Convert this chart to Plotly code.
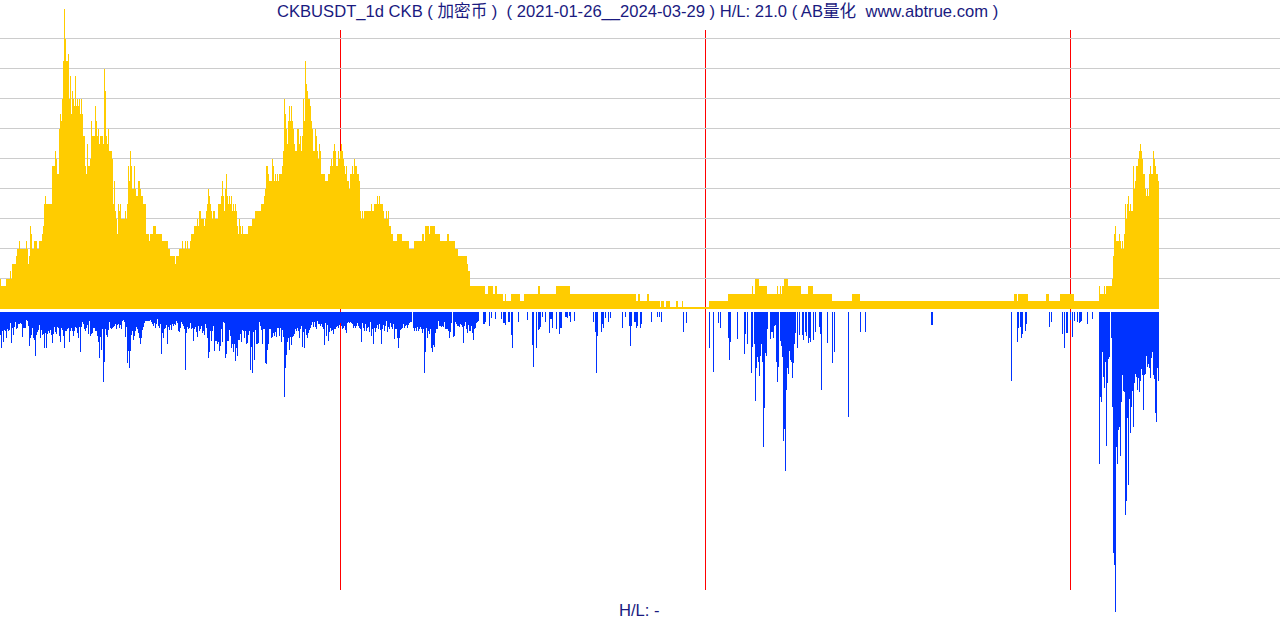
import numpy as np
import pandas as pd
import plotly.graph_objects as go

# ---------------- data ----------------
start_date = "2021-01-26"
year_marks = ["2022-01-01", "2023-01-01", "2024-01-01"]

# daily close price in 0.001 USDT, run-length encoded as (value, number of days)
price_runs = [
    (4,1),(3,5),(4,4),(5,1),(4,1),(6,4),(7,1),(8,2),(9,1),(8,6),(9,1),(8,1),(6,1),(7,1),
    (11,1),(10,1),(8,2),(9,3),(8,2),(9,3),(10,1),(11,1),(14,1),(15,1),(14,6),(19,3),(21,1),
    (20,1),(18,2),(24,1),(26,1),(25,1),(28,1),(33,1),(40,1),(36,1),(33,2),(34,1),(28,1),
    (31,1),(26,1),(29,1),(28,1),(27,1),(31,1),(27,1),(28,1),(27,1),(28,1),(26,1),(28,1),
    (26,1),(23,2),(19,1),(18,1),(22,1),(19,2),(20,1),(25,1),(23,3),(27,1),(25,1),(23,1),
    (24,1),(22,1),(23,3),(22,1),(32,1),(29,1),(23,1),(22,1),(24,1),(21,3),(20,1),(14,1),
    (17,1),(13,1),(12,1),(10,1),(14,1),(13,1),(14,1),(12,4),(13,1),(12,1),(14,1),(19,1),
    (17,1),(21,1),(19,1),(16,2),(19,1),(16,1),(15,2),(17,2),(16,1),(15,2),(14,3),(10,3),
    (9,1),(10,3),(11,3),(10,6),(9,6),(8,2),
    (7,5),(6,1),(7,3),(8,3),(9,1),(8,2),(9,1),(8,1),(9,1),(8,2),(9,1),(10,3),(11,3),(12,1),
    (11,1),(13,2),(12,3),(11,1),(12,1),(13,1),(14,1),(16,1),(15,1),(14,1),(13,1),(12,1),
    (13,2),(12,3),(14,3),(15,1),(17,1),(15,1),(13,1),(16,1),(18,1),(15,1),(14,1),(15,1),
    (14,1),(15,1),(13,1),(14,1),(13,1),(14,1),(13,1),(11,1),(10,1),(12,1),(11,1),(10,1),
    (11,1),(10,5),(11,4),(12,3),(13,6),(14,3),(15,1),(16,1),(19,2),(18,1),(17,3),(20,1),
    (19,1),(17,1),(18,1),(17,1),(18,1),(17,1),(18,3),(19,1),(21,1),(28,1),(26,1),(24,1),
    (22,1),(25,1),(27,1),(25,1),(27,1),(25,1),(24,1),(22,1),(21,2),(24,2),(22,1),(23,1),
    (21,1),(23,1),(28,1),(25,1),(33,1),(30,1),(29,1),(28,2),(27,1),(25,1),(24,1),(21,2),
    (24,1),(23,1),(21,1),(20,1),(22,1),(21,1),(18,4),(17,3),(18,2),(19,1),(20,1),(19,1),
    (21,1),(22,1),(21,1),(19,2),(21,1),(20,1),(21,1),(22,1),(21,1),(20,1),(19,1),(18,1),
    (19,1),(17,2),(16,1),(18,2),(19,1),(18,1),(20,1),(19,2),(18,2),(17,1),(13,1),(12,1),
    (13,1),(12,1),(13,7),(14,1),(13,2),(14,3),(15,1),(14,1),(15,1),(14,3),(13,1),(12,2),
    (13,1),(12,1),(13,1),(11,2),(10,2),(9,4),(10,5),(9,7),(8,5),(9,8),(10,2),(9,1),(11,4),
    (10,1),(11,5),(10,5),(9,7),(10,2),(9,6),(8,3),(7,9),(6,1),(5,2),(3,15),(2,3),(3,5),
    (2,2),(3,2),(2,6),(1,2),(2,1),(1,5),(2,9),(1,4),(2,14),(3,2),(2,16),(3,14),(2,66),
    (1,2),(2,2),(1,7),(2,2),(1,11),(0,1),(1,3),(0,2),(1,4),(0,6),(1,2),(0,4),(1,1),(0,26),
    (1,19),(2,24),(3,1),(2,2),(4,4),(3,8),(2,10),(3,1),(2,2),(3,1),(2,1),(3,2),(4,4),
    (3,13),(2,7),(3,5),(2,19),(1,20),(2,8),(1,154),(2,3),(1,1),(2,10),(1,18),(2,3),(1,11),
    (2,14),(1,25),(3,1),(2,4),(3,1),(2,1),(3,6),(4,1),(7,1),(10,1),(11,1),(9,3),(10,1),
    (9,1),(8,1),(9,1),(8,1),(10,1),(14,1),(12,1),(14,1),(15,1),(13,1),(14,1),(13,2),(19,1),
    (16,1),(17,1),(19,2),(20,1),(21,1),(22,1),(21,1),(20,1),(18,2),(16,1),(15,1),(16,1),
    (15,1),(18,1),(19,1),(18,2),(21,1),(20,1),(19,1),(18,2),(17,1),
]

# volume-like series (arbitrary units), days 0..478
volume_head = [
    23,36,19,30,18,19,26,17,19,18, 11,31,16,23,15,10,17,16,12,12, 11,12,25,16,16,16,8,9,14,34,
    26,23,16,26,28,44,23,20,18,13, 26,18,23,22,36,21,36,22,19,21, 18,23,31,22,15,20,22,15,16,24,
    30,16,18,24,36,19,19,17,16,30, 19,16,19,24,19,15,16,21,26,15, 40,15,10,12,17,19,16,13,22,9,
    24,22,21,16,16,19,19,24,30,46, 25,38,17,70,50,17,23,25,18,10, 16,17,16,15,14,12,17,13,12,16,
    13,17,9,8,10,25,15,51,39,56, 39,23,19,28,24,19,15,17,21,26, 32,26,18,15,11,9,9,9,9,9,
    8,10,12,14,11,16,12,7,14,16, 12,42,21,26,17,16,13,32,15,18, 13,18,12,14,12,13,9,11,19,20,
    16,10,12,14,17,58,21,15,17,16, 11,17,16,29,17,15,20,25,14,19, 17,14,21,19,23,12,16,26,46,40,
    19,29,19,14,39,29,29,32,30,39, 34,17,30,10,11,46,42,29,29,18, 24,36,32,40,32,49,36,44,28,28,
    22,30,18,19,26,19,32,31,23,19, 58,35,61,20,48,18,32,32,31,10, 14,18,32,17,17,51,52,38,32,17,
    17,26,25,21,24,20,25,16,16,24, 16,30,18,25,85,56,43,30,26,38, 25,33,25,24,22,17,19,16,19,26,
    17,14,35,20,36,17,23,26,21,18, 16,13,10,15,10,15,17,9,12,12, 14,12,15,17,33,11,24,13,29,20,
    16,19,18,22,17,17,15,14,16,13, 11,14,17,16,14,18,21,11,10,11, 10,11,12,16,14,16,14,11,14,16,
    17,30,11,16,19,12,19,16,15,20, 10,24,17,32,16,20,16,13,17,12, 18,32,17,13,19,14,9,20,15,17,
    11,15,17,12,27,17,17,26,36,26, 18,17,16,12,16,14,13,16,13,11, 10,10,0,16,19,16,19,15,19,17,
    15,17,21,17,61,40,16,26,19,22, 17,36,40,33,35,21,17,17,9,14, 14,15,14,15,10,17,17,17,19,26,
    20,11,0,25,24,10,12,14,14,15, 12,13,15,31,14,10,17,21,13,19, 19,14,21,28,17,16,11,10,9,
]

# sparse days in the middle: (day number from start, volume)
volume_sparse = [
    (483,12),(484,12),(485,10),(489,14),(491,6),(495,7),(501,7),(503,11),(504,11),(505,13),
    (508,10),(509,10),(511,23),(512,36),(518,10),(527,8),(532,33),(533,55),(536,36),(538,18),
    (539,17),(540,15),(542,5),(545,10),(549,21),(550,7),(551,7),(552,16),(556,17),(559,22),
    (560,16),(561,16),(565,5),(566,5),(567,6),(569,4),(570,10),(574,9),(593,10),(595,20),
    (596,61),(597,24),(601,20),(602,12),(603,16),(605,6),(608,10),(610,6),(622,16),(625,5),
    (629,14),(630,34),(631,14),(634,10),(635,10),(636,16),(637,14),(640,16),(641,12),(651,10),
    (657,5),(659,5),(661,10),(683,20),(686,11),(709,36),(713,60),(718,11),(720,16),(728,26),
    (729,48),(730,30),(737,27),(744,42),(745,22),(747,32),(751,61),(752,35),(754,32),(755,89),
    (756,56),(757,45),(758,50),(759,64),(760,44),(761,32),(762,50),(763,135),(764,96),(765,41),
    (766,44),(767,17),(770,27),(771,20),(772,20),(773,26),(774,14),(775,13),(776,50),(777,70),
    (778,55),(780,29),(781,34),(782,45),(783,129),(784,117),(785,159),(786,78),(787,56),(788,62),
    (789,39),(790,48),(791,50),(792,66),(793,51),(794,32),(795,21),(797,36),(799,23),(802,23),
    (803,28),(805,20),(806,24),(808,31),(809,26),(810,30),(813,28),(815,20),(819,15),(820,22),
    (821,78),(827,31),(832,51),(834,40),(848,105),(860,20),(865,20),(931,13),(932,13),(1011,69),
    (1017,30),(1018,16),(1020,15),(1021,26),(1022,22),(1025,19),(1026,12),(1049,15),(1051,10),
    (1062,22),(1064,36),(1066,21),(1067,21),(1070,8),(1072,25),(1074,9),(1077,10),(1079,11),
    (1080,10),(1081,9),(1087,12),(1092,7),
]

# days 1099..1158
volume_tail = [
    152,85,90,40,65,76,50,134,71,47, 45,0,26,95,241,253,300,135,152,118,
    115,144,90,63,79,80,203,189,106,173, 87,121,95,79,115,71,62,65,78,66,
    80,69,57,63,98,63,62,44,55,52, 56,66,46,40,63,67,101,110,56,69,
]
tail_start_day = 1099

title_text = "CKBUSDT_1d CKB ( 加密币 )  ( 2021-01-26__2024-03-29 ) H/L: 21.0 ( AB量化  www.abtrue.com )"
footer_text = "H/L: -"

# ---------------- build series ----------------
price = np.concatenate([np.full(c, v, dtype=float) for v, c in price_runs])
n_days = len(price)
base = pd.Timestamp(start_date)
dates = base + pd.to_timedelta(np.arange(n_days), unit="D")

volume = np.zeros(n_days)
volume[:len(volume_head)] = volume_head
for d, v in volume_sparse:
    if d < n_days:
        volume[d] = v
volume[tail_start_day:tail_start_day + len(volume_tail)] = volume_tail[: n_days - tail_start_day]

price_draw = np.where(price <= 0, 0.15, price)

# ---------------- figure ----------------
W, H = 1280, 620
yb_price = 308.7      # pixel row of price baseline
px_per_unit = 7.5
yb_vol = 312.0        # pixel row of volume baseline

day_ms = 86400000
x0 = base - pd.Timedelta(hours=12)
x1 = x0 + pd.Timedelta(days=W)

fig = go.Figure()
fig.add_trace(go.Bar(x=dates, y=price_draw, width=day_ms, marker_color="#FFCC00",
                     marker_line_width=0, yaxis="y", hoverinfo="skip"))
fig.add_trace(go.Bar(x=dates, y=-volume, width=day_ms, marker_color="#0033FF",
                     marker_line_width=0, yaxis="y2", hoverinfo="skip"))

for d in year_marks:
    fig.add_shape(type="line", xref="x", yref="paper", x0=d, x1=d,
                  y0=1 - 590 / H, y1=1 - 30 / H,
                  line=dict(color="#FF0000", width=1), layer="below")

font_family = "Liberation Sans, Noto Sans CJK SC"
fig.update_layout(
    width=W, height=H, margin=dict(l=0, r=0, t=0, b=0),
    paper_bgcolor="white", plot_bgcolor="white",
    showlegend=False, barmode="overlay", bargap=0,
    xaxis=dict(range=[x0, x1], visible=False, showgrid=False, fixedrange=True),
    yaxis=dict(range=[(yb_price - H) / px_per_unit, yb_price / px_per_unit],
               tickvals=list(range(4, 40, 4)), showticklabels=False,
               showgrid=True, gridcolor="#CCCCCC", gridwidth=1,
               zeroline=False, showline=False, ticks="", fixedrange=True),
    yaxis2=dict(range=[yb_vol - H, yb_vol], overlaying="y", visible=False,
                showgrid=False, zeroline=False, fixedrange=True),
    annotations=[
        dict(text=title_text, xref="paper", yref="paper", x=637.5 / W, y=1 - 11.5 / H,
             xanchor="center", yanchor="middle", showarrow=False,
             font=dict(family=font_family, size=16.6, color="#1a1a80")),
        dict(text=footer_text, xref="paper", yref="paper", x=639 / W, y=1 - 610 / H,
             xanchor="center", yanchor="middle", showarrow=False,
             font=dict(family=font_family, size=16.6, color="#1a1a80")),
    ],
)

fig.write_html("out.html")
